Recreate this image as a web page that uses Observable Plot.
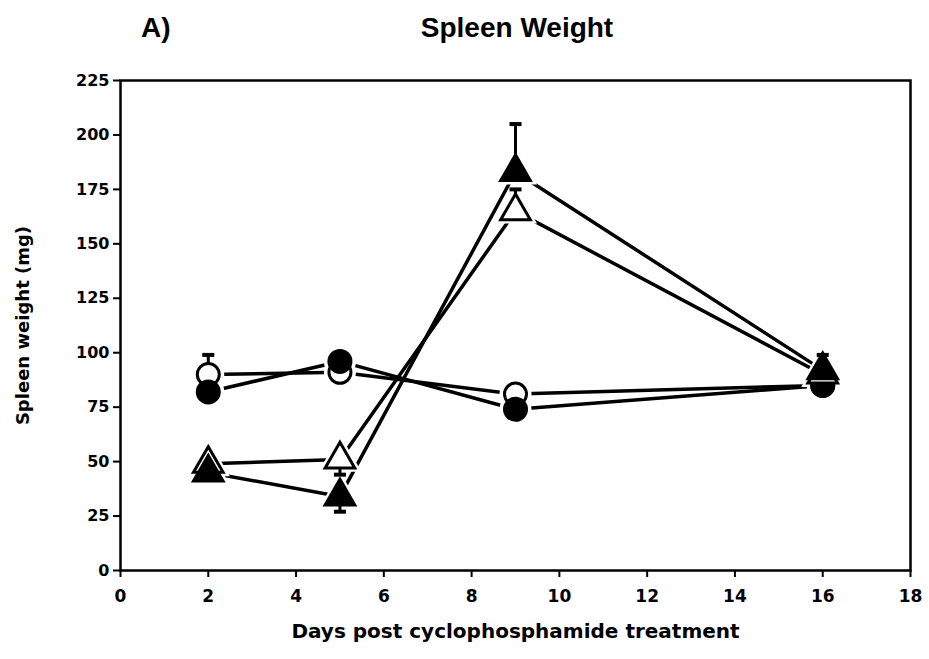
<!DOCTYPE html>
<html><head><meta charset="utf-8">
<script src="https://cdn.jsdelivr.net/npm/d3@7"></script>
<script src="https://cdn.jsdelivr.net/npm/@observablehq/plot@0.6"></script>
<style>
body{margin:0;background:#fff;width:929px;height:659px;overflow:hidden;}
#head{position:relative;height:60px;font-family:"Liberation Sans",Arial,sans-serif;font-weight:bold;font-size:28px;color:#000;}
#head .a{position:absolute;left:141px;top:12px;}
#head .t{position:absolute;left:0;width:1034px;text-align:center;top:12px;}
</style></head>
<body>
<div id="head"><span class="a">A)</span><div class="t">Spleen Weight</div></div>
<div id="chart"></div>
<script>
const days = [2, 5, 9, 16];
const openCircle = [90, 91, 81, 85];
const filledCircle = [82, 96, 74, 85];
const openTriangle = [49, 51, 165, 90];
const filledTriangle = [45, 34, 183, 92];
// visible error bar ends (null = hidden)
const openCircleErr = [99, null, null, null];
const filledCircleErr = [null, null, null, null];
const openTriangleErr = [null, 44, 175, null];
const filledTriangleErr = [null, 27, 205, 99];
const xTicks = [0, 2, 4, 6, 8, 10, 12, 14, 16, 18];
const yTicks = [0, 25, 50, 75, 100, 125, 150, 175, 200, 225];

const seriesDefs = [
  {name: "openCircle", vals: openCircle, err: openCircleErr, symbol: "circle", filled: false},
  {name: "filledCircle", vals: filledCircle, err: filledCircleErr, symbol: "circle", filled: true},
  {name: "openTriangle", vals: openTriangle, err: openTriangleErr, symbol: "triangle", filled: false},
  {name: "filledTriangle", vals: filledTriangle, err: filledTriangleErr, symbol: "triangle", filled: true}
];
const rows = seriesDefs.flatMap(s => days.map((d, i) => ({series: s.name, day: d, value: s.vals[i], err: s.err[i], symbol: s.symbol, filled: s.filled})));
const errRows = rows.filter(r => r.err != null);

const capSymbol = {draw(ctx, size) { const w = 6; ctx.moveTo(-w, 0); ctx.lineTo(w, 0); }};

const font = "'DejaVu Sans', sans-serif";
const plot = Plot.plot({
  width: 929, height: 599,
  marginLeft: 120, marginRight: 19, marginTop: 20, marginBottom: 89,
  style: {fontFamily: font, fontWeight: "bold", fontSize: "16px", color: "#000", background: "#fff"},
  x: {domain: [0, 18], ticks: xTicks, tickSize: 7, tickPadding: 12, label: null},
  y: {domain: [0, 225], ticks: yTicks, tickSize: 7, tickPadding: 4, label: null},
  marks: [
    Plot.frame({stroke: "#000", strokeWidth: 2.5}),
    Plot.axisX({ticks: xTicks, tickSize: 7, tickPadding: 12, strokeWidth: 2, fontSize: 17, fontWeight: "bold"}),
    Plot.axisY({ticks: yTicks, tickSize: 7, tickPadding: 4, strokeWidth: 2, fontSize: 16, fontWeight: "bold"}),
    Plot.line(rows, {x: "day", y: "value", z: "series", stroke: "#000", strokeWidth: 3.5}),
    Plot.dot(rows, {x: "day", y: "value", symbol: "symbol", r: 16, fill: "#fff", stroke: "none"}),
    Plot.ruleX(errRows, {x: "day", y1: "value", y2: "err", stroke: "#000", strokeWidth: 3}),
    Plot.dot(errRows, {x: "day", y: "err", symbol: capSymbol, stroke: "#000", strokeWidth: 4}),
    Plot.dot(rows.filter(r => r.symbol === "circle"), {x: "day", y: "value", symbol: "circle", r: 11, fill: d => d.filled ? "#000" : "#fff", stroke: "#000", strokeWidth: 3}),
    Plot.dot(rows.filter(r => r.symbol === "triangle"), {x: "day", y: "value", symbol: "triangle", r: 11, fill: d => d.filled ? "#000" : "#fff", stroke: "#000", strokeWidth: 3}),
    Plot.text(["Spleen weight (mg)"], {frameAnchor: "left", textAnchor: "middle", dx: -97, rotate: -90, fontSize: 18, fontWeight: "bold", fill: "#000"}),
    Plot.text(["Days post cyclophosphamide treatment"], {frameAnchor: "bottom", dy: 67, fontSize: 20, fontWeight: "bold", fill: "#000"})
  ]
});
document.getElementById("chart").appendChild(plot);
</script>
</body></html>
